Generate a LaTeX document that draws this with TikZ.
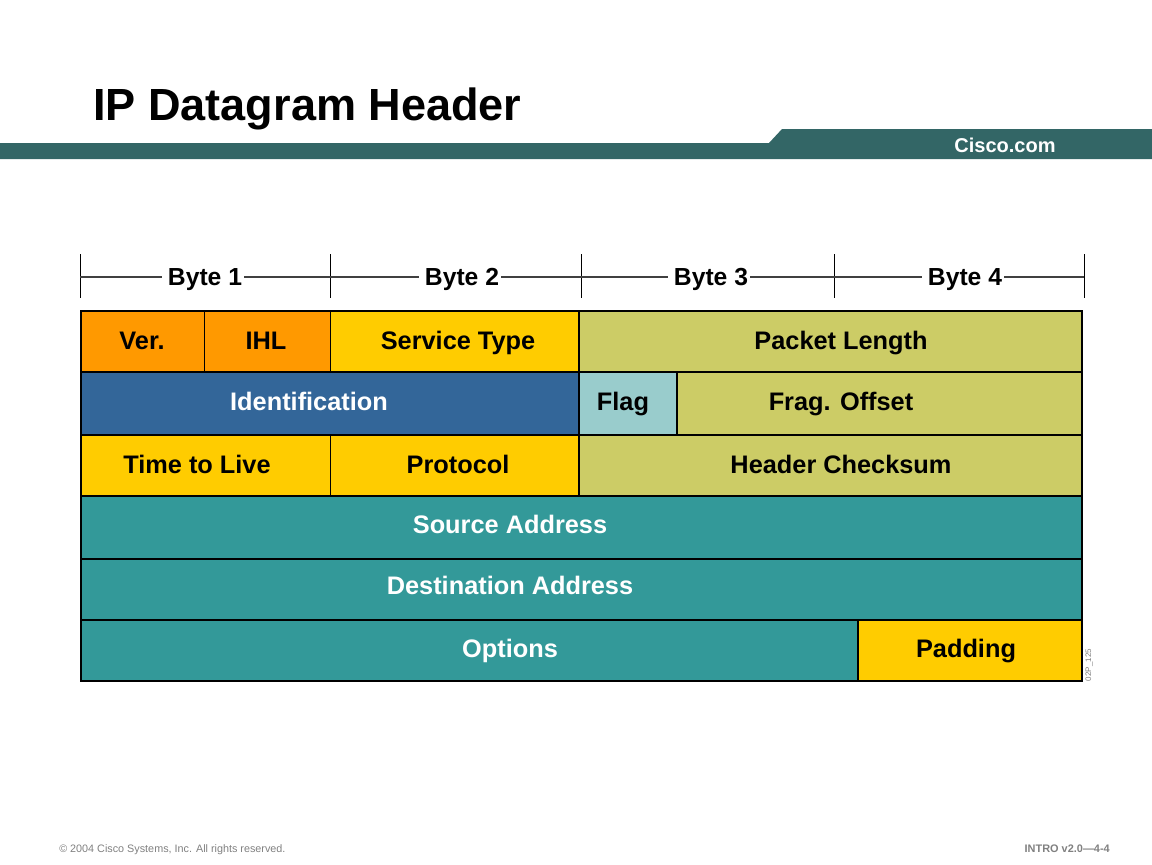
\documentclass[tikz,border=0pt]{standalone}
\usepackage{fontspec}
\setmainfont{Liberation Sans}
\definecolor{bandteal}{HTML}{336666}
\definecolor{cellorange}{HTML}{FF9900}
\definecolor{cellyellow}{HTML}{FFCC00}
\definecolor{cellkhaki}{HTML}{CCCC66}
\definecolor{cellblue}{HTML}{336699}
\definecolor{celllight}{HTML}{99CCCC}
\definecolor{cellteal}{HTML}{339999}
\definecolor{footgray}{HTML}{808080}
\definecolor{rulegray}{HTML}{404040}
\tikzset{
  cell/.style={draw=black,line width=1pt},
  thincell/.style={draw=black,line width=0.6pt},
  celltext/.style={anchor=base,inner sep=0pt,font=\fontsize{19}{22}\selectfont\bfseries},
  bytetext/.style={celltext,inner xsep=1.5pt,font=\fontsize{18.5}{22}\selectfont\bfseries},
  tick/.style={draw=black,line width=0.6pt},
  byterule/.style={draw=rulegray,line width=0.8pt},
  foottext/.style={anchor=base west,inner sep=0pt,text=footgray,font=\fontsize{8.1}{9}\selectfont},
}
\begin{document}
\begin{tikzpicture}[x=0.75pt,y=-0.75pt]
    \useasboundingbox (0,0) rectangle (1152,864);

    % banda superior
    \fill[bandteal] (0,143) -- (769,143) -- (782,129) -- (1152,129) -- (1152,159) -- (0,159) -- cycle;
    \node[anchor=base west,inner sep=0pt,font=\fontsize{33.8}{40}\selectfont\bfseries] (title) at (93,120) {IP Datagram Header};
    \node[anchor=base,inner sep=0pt,text=white,font=\fontsize{15}{18}\selectfont\bfseries] (cisco) at (1005,152) {Cisco.com};

    % marcas de byte
    \foreach \name/\x in {t0/80,t1/330,t2/581,t3/834,t4/1084} {
        \coordinate (\name) at (\x,277);
        \draw[tick] (\x,254) -- (\x,298);
    }
    \node[bytetext] (byte1) at (205,285) {Byte 1};
    \node[bytetext] (byte2) at (462,285) {Byte 2};
    \node[bytetext] (byte3) at (711,285) {Byte 3};
    \node[bytetext] (byte4) at (965,285) {Byte 4};
    \draw[byterule] (t0) -- ([xshift=-3pt]byte1.west |- t0);
    \draw[byterule] (byte1.east |- t0) -- (t1) -- ([xshift=-3pt]byte2.west |- t0);
    \draw[byterule] (byte2.east |- t0) -- (t2) -- ([xshift=-3pt]byte3.west |- t0);
    \draw[byterule] (byte3.east |- t0) -- (t3) -- ([xshift=-3pt]byte4.west |- t0);
    \draw[byterule] (byte4.east |- t0) -- (t4);

    % celdas
    \fill[cellorange] (81,311) rectangle (330,372);
    \fill[cellyellow] (330,311) rectangle (579,372);
    \fill[cellkhaki] (579,311) rectangle (1082,372);
    \fill[cellblue] (81,372) rectangle (579,435);
    \fill[celllight] (579,372) rectangle (677,435);
    \fill[cellkhaki] (677,372) rectangle (1082,435);
    \fill[cellyellow] (81,435) rectangle (579,496);
    \fill[cellkhaki] (579,435) rectangle (1082,496);
    \fill[cellteal] (81,496) rectangle (1082,620);
    \fill[cellteal] (81,620) rectangle (858,681);
    \fill[cellyellow] (858,620) rectangle (1082,681);

    % lineas interiores
    \draw[thincell] (204,311) -- (204,372);
    \draw[thincell] (330,311) -- (330,372);
    \draw[cell] (579,311) -- (579,496);
    \draw[cell] (677,372) -- (677,435);
    \draw[thincell] (330,435) -- (330,496);
    \draw[cell] (858,620) -- (858,681);
    \draw[cell] (81,372) -- (1082,372);
    \draw[cell] (81,435) -- (1082,435);
    \draw[cell] (81,496) -- (1082,496);
    \draw[cell] (81,559) -- (1082,559);
    \draw[cell] (81,620) -- (1082,620);
    \draw[cell] (81,311) rectangle (1082,681);

    % etiquetas
    \node[celltext] (ver) at (142,349) {Ver.};
    \node[celltext] (ihl) at (266,349) {IHL};
    \node[celltext] (service) at (458,349) {Service Type};
    \node[celltext] (length) at (841,349) {Packet Length};
    \node[celltext,text=white] (ident) at (309,410) {Identification};
    \node[celltext] (flag) at (623,410) {Flag};
    \node[celltext] (offset) at (841,410) {Frag. Offset};
    \node[celltext] (ttl) at (197,473) {Time to Live};
    \node[celltext] (protocol) at (458,473) {Protocol};
    \node[celltext] (checksum) at (841,473) {Header Checksum};
    \node[celltext,text=white] (source) at (510,533) {Source Address};
    \node[celltext,text=white] (dest) at (510,594) {Destination Address};
    \node[celltext,text=white] (options) at (510,657) {Options};
    \node[celltext] (padding) at (966,657) {Padding};

    % pie
    \node[anchor=base,inner sep=0pt,rotate=90,text=footgray,font=\fontsize{6}{7}\selectfont] (code) at (1091,665) {02P\_125};
    \node[foottext] (copy) at (59,852) {© 2004 Cisco Systems, Inc. All rights reserved.};
    \node[foottext,font=\fontsize{8.2}{9}\selectfont\bfseries,anchor=base east] (intro) at (1110,852) {INTRO v2.0—4-4};
\end{tikzpicture}
\end{document}
